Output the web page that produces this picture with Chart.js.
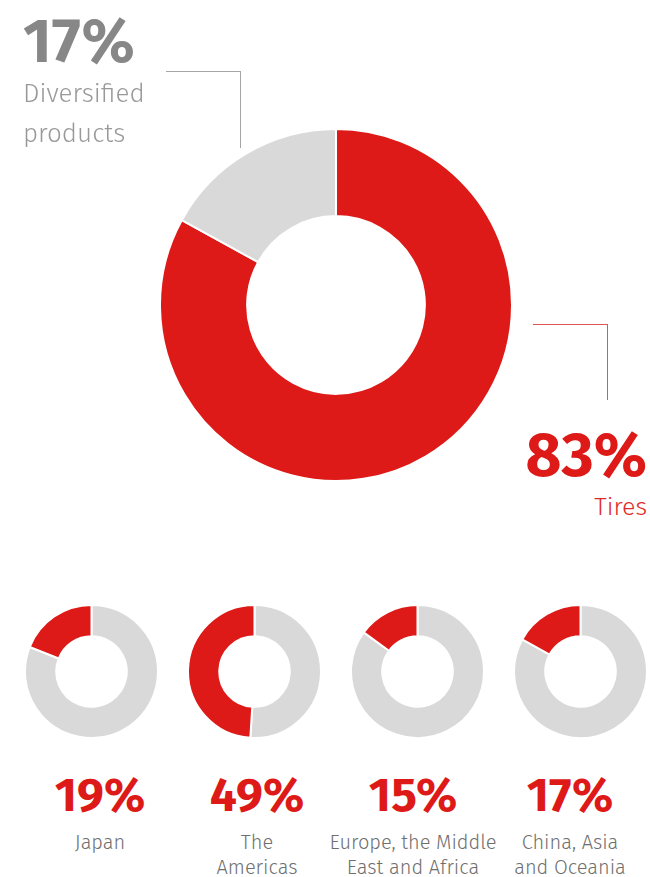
<!DOCTYPE html>
<html>
<head>
  <meta charset="utf-8">
  <title>Revenue share</title>
  <script src="https://cdn.jsdelivr.net/npm/chart.js"></script>
  <style>
    body {
      margin: 0;
      width: 650px;
      height: 877px;
      position: relative;
      overflow: hidden;
      background: #ffffff;
      font-family: "Fira Sans", Roboto, Arial, sans-serif;
    }
    canvas { position: absolute; }
    .txt {
      position: absolute;
      line-height: 1;
      white-space: nowrap;
    }
    .big { font-weight: 700; font-size: 62px; }
    .mid { font-size: 25px; font-weight: 300; }
    .num { font-weight: 700; font-size: 48px; color: #dd1a17; width: 160px; text-align: center; }
    .lab { font-size: 20px; font-weight: 300; color: #6f6f6f; width: 180px; text-align: center; line-height: 25px; }
    .line { position: absolute; }
  </style>
</head>
<body>

  <canvas id="mainChart" width="354" height="354" style="left:159px; top:128px;"></canvas>

  <!-- callout: diversified -->
  <div class="txt big" style="left:23px; top:10px; color:#878787;" id="divPct"></div>
  <div class="txt mid" style="left:23px; top:74px; color:#999999; font-size:26px; line-height:40px;" id="divName"></div>
  <div class="line" style="left:166px; top:71px; width:74px; height:76px; border-top:1.5px solid #a5a5a5; border-right:1.5px solid #a5a5a5;"></div>

  <!-- callout: tires -->
  <div class="line" style="left:533px; top:324px; width:74px; height:75px; border-top:1.5px solid #e25555; border-right:1.5px solid #e25555;"></div>
  <div class="txt big" style="right:3px; top:424px; color:#dd1a17;" id="tirePct"></div>
  <div class="txt mid" style="right:3px; top:495px; color:#e02a27;" id="tireName"></div>

  <canvas id="region0" width="135" height="135" style="left:24px; top:604px;"></canvas>
  <canvas id="region1" width="135" height="135" style="left:187px; top:604px;"></canvas>
  <canvas id="region2" width="135" height="135" style="left:350px; top:604px;"></canvas>
  <canvas id="region3" width="135" height="135" style="left:513px; top:604px;"></canvas>

  <div id="regionText"></div>

  <script>
    // data
    const mainLabels = ['Tires', 'Diversified products'];
    const mainValues = [83, 17];

    const regionNames = [
      ['Japan'],
      ['The', 'Americas'],
      ['Europe, the Middle', 'East and Africa'],
      ['China, Asia', 'and Oceania']
    ];
    const regionShares = [19, 49, 15, 17];

    const RED = '#dd1a17';
    const GREY = '#d9d9d9';

    const quiet = {
      responsive: false,
      animation: false,
      events: [],
      plugins: { legend: { display: false }, tooltip: { enabled: false } }
    };

    // big donut, red clockwise from the top
    new Chart(document.getElementById('mainChart'), {
      type: 'doughnut',
      data: {
        labels: mainLabels,
        datasets: [{
          data: mainValues,
          backgroundColor: [RED, GREY],
          borderColor: '#ffffff',
          borderWidth: 2
        }]
      },
      options: Object.assign({ cutout: '50.5%' }, quiet)
    });

    document.getElementById('tirePct').textContent = mainValues[0] + '%';
    document.getElementById('tireName').textContent = mainLabels[0];
    document.getElementById('divPct').textContent = mainValues[1] + '%';
    document.getElementById('divName').innerHTML = 'Diversified<br>products';

    // small donuts, red share ends at the top
    const textCenters = [100, 257, 413, 570];
    const holder = document.getElementById('regionText');

    regionShares.forEach((share, i) => {
      new Chart(document.getElementById('region' + i), {
        type: 'doughnut',
        data: {
          labels: ['Other', regionNames[i].join(' ')],
          datasets: [{
            data: [100 - share, share],
            backgroundColor: [GREY, RED],
            borderColor: '#ffffff',
            borderWidth: 2
          }]
        },
        options: Object.assign({ cutout: '53%' }, quiet)
      });

      const num = document.createElement('div');
      num.className = 'txt num';
      num.style.left = (textCenters[i] - 80) + 'px';
      num.style.top = '771px';
      num.textContent = share + '%';
      holder.appendChild(num);

      const lab = document.createElement('div');
      lab.className = 'txt lab';
      lab.style.left = (textCenters[i] - 90) + 'px';
      lab.style.top = '830px';
      lab.innerHTML = regionNames[i].join('<br>');
      holder.appendChild(lab);
    });
  </script>
</body>
</html>
